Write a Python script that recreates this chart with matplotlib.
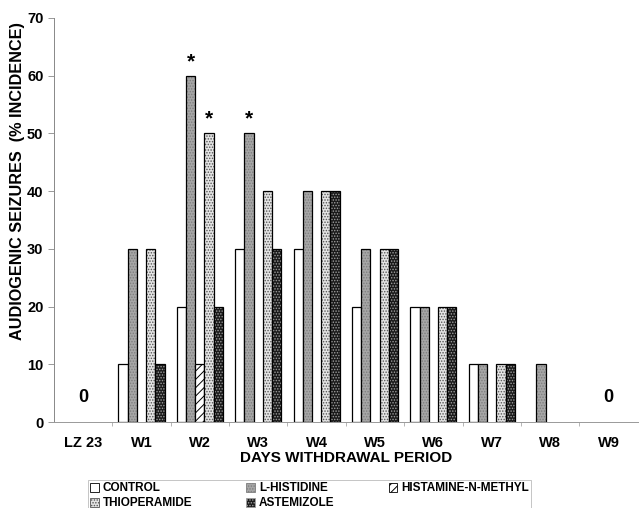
import numpy as np
import matplotlib.pyplot as plt

plt.rcParams['font.family'] = ['Liberation Sans', 'DejaVu Sans']
plt.rcParams['font.weight'] = 'bold'
plt.rcParams['axes.labelweight'] = 'bold'
plt.rcParams['hatch.linewidth'] = 0.7

periods = ['LZ 23', 'W1', 'W2', 'W3', 'W4', 'W5', 'W6', 'W7', 'W8', 'W9']
control = [0, 10, 20, 30, 30, 20, 20, 10, 0, 0]
l_histidine = [0, 30, 60, 50, 40, 30, 20, 10, 10, 0]
histamine_n_methyl = [0, 0, 10, 0, 0, 0, 0, 0, 0, 0]
thioperamide = [0, 30, 50, 40, 40, 30, 20, 10, 0, 0]
astemizole = [0, 10, 20, 30, 40, 30, 20, 10, 0, 0]
starred = [(2, 1), (2, 3), (3, 1)]  # (period, series)
zero_labels = [0, 9]

fig = plt.figure(figsize=(6.41, 5.08), dpi=100)
ax = fig.add_axes([0.084, 0.169, 0.911, 0.796])

x = np.arange(len(periods))
w = 0.158
series = [
    ('CONTROL', control, 'white', 'black', ''),
    ('L-HISTIDINE', l_histidine, '#a6a6a6', '#7e7e7e', '......'),
    ('HISTAMINE-N-METHYL', histamine_n_methyl, 'white', 'black', '////'),
    ('THIOPERAMIDE', thioperamide, '#e4e4e4', '#555555', '......'),
    ('ASTEMIZOLE', astemizole, '#1a1a1a', '#a0a0a0', '......'),
]
handles = {}
for i, (name, vals, fc, hc, hatch) in enumerate(series):
    pos = x + (i - 2) * w
    vals = np.array(vals, dtype=float)
    mask = vals > 0
    ax.bar(pos[mask], vals[mask], w, color=fc, edgecolor=hc, hatch=hatch, linewidth=0)
    ax.bar(pos[mask], vals[mask], w, fill=False, edgecolor='black', linewidth=0.9)
    handles[name] = plt.Rectangle((0, 0), 1, 1, facecolor=fc, edgecolor=hc,
                                  hatch=hatch, linewidth=0.6)

for p, s in starred:
    val = series[s][1][p]
    ax.text(x[p] + (s - 2) * w, val + 0.8, '*', ha='center', va='bottom', fontsize=15)

for p in zero_labels:
    ax.text(x[p], 4.3, '0', ha='center', va='center', fontsize=13)

ax.set_xlim(-0.5, 9.5)
ax.set_ylim(0, 70)
ax.set_yticks(range(0, 71, 10))
ax.set_xticks(x)
ax.set_xticklabels(periods, fontsize=10.5)
ax.tick_params(axis='y', labelsize=10.5, length=4, color='#888888', width=0.6)
ax.set_xticks(np.arange(0.5, 9.5, 1), minor=True)
ax.tick_params(axis='x', which='major', length=0, pad=10)
ax.tick_params(axis='x', which='minor', length=3, color='#aaaaaa', width=0.6)
for sp in ['top', 'right']:
    ax.spines[sp].set_visible(False)
ax.spines['left'].set_color('#888888')
ax.spines['left'].set_linewidth(0.7)
ax.spines['bottom'].set_color('#999999')
ax.spines['bottom'].set_linewidth(0.7)

ax.set_ylabel('AUDIOGENIC SEIZURES  (% INCIDENCE)', fontsize=11.7)
ax.yaxis.set_label_coords(-0.05, 0.595)
ax.set_xlabel('DAYS WITHDRAWAL PERIOD', fontsize=11, labelpad=1)

order = ['CONTROL', 'THIOPERAMIDE', 'L-HISTIDINE', 'ASTEMIZOLE', 'HISTAMINE-N-METHYL']
leg = fig.legend([handles[n] for n in order], order, loc='upper left',
                 bbox_to_anchor=(0.137, 0.055), ncol=3, fontsize=8.5,
                 frameon=True, fancybox=False, edgecolor='#aaaaaa',
                 handlelength=0.75, handleheight=0.75, handletextpad=0.3,
                 columnspacing=4.6, borderpad=0.2, labelspacing=0.25,
                 borderaxespad=0)
leg.get_frame().set_linewidth(0.6)

fig.savefig('out.png', dpi=100)
